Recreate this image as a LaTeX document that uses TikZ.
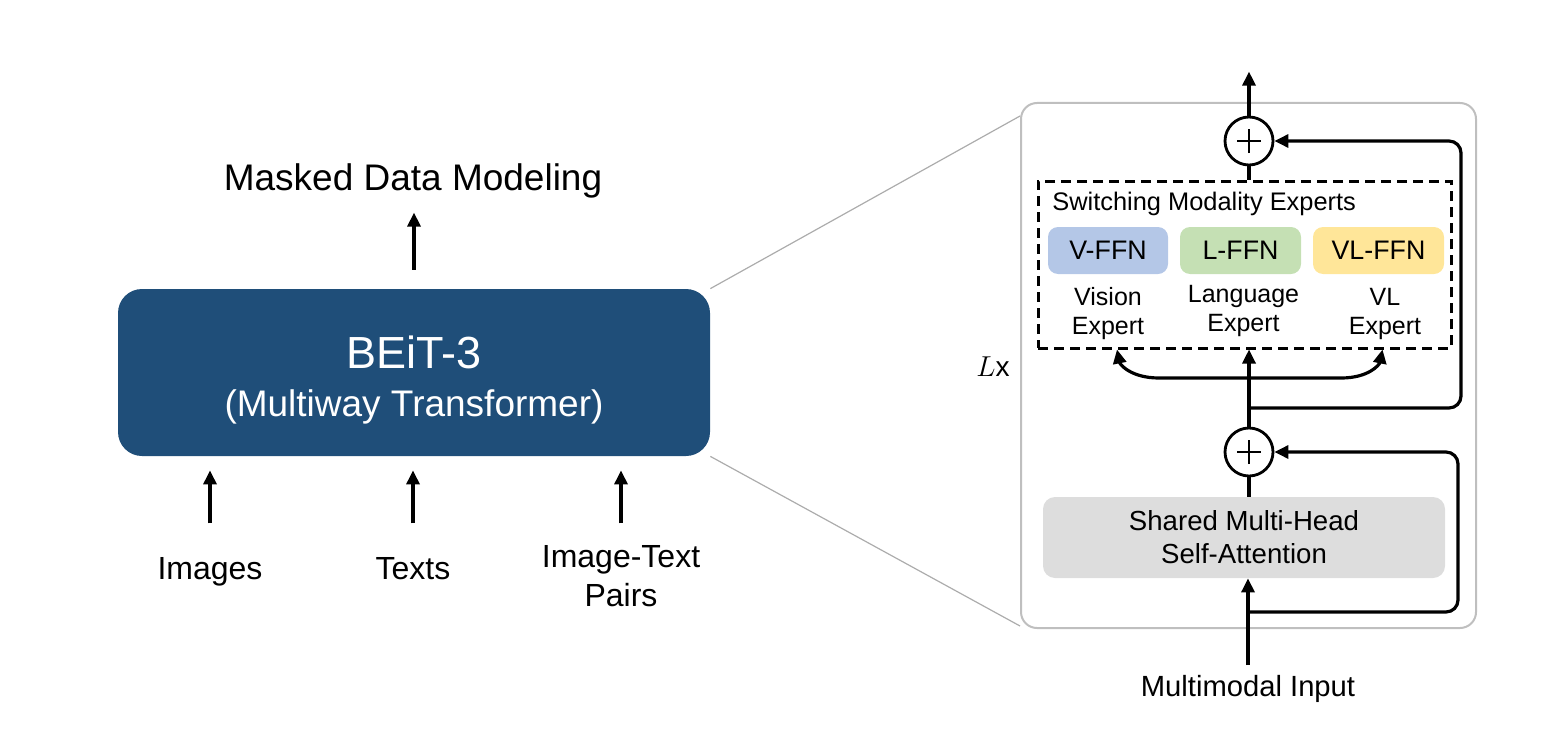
\documentclass[tikz,border=0pt]{standalone}
\usepackage{fontspec}
\setmainfont{Liberation Sans}
\usetikzlibrary{arrows.meta, positioning, backgrounds}
\usepackage{xcolor}
\definecolor{beitblue}{HTML}{1F4E79}
\definecolor{vblue}{HTML}{B4C7E7}
\definecolor{lgreen}{HTML}{C5E0B4}
\definecolor{vlyellow}{HTML}{FFE699}
\definecolor{attgray}{HTML}{DDDDDD}
\definecolor{framegray}{HTML}{BFBFBF}

\begin{document}
\begin{tikzpicture}[
      x=0.5pt, y=-0.5pt,
      big/.style={font=\fontsize{18.5}{22}\selectfont, inner sep=0pt},
      txt/.style={font=\fontsize{16}{19.5}\selectfont, align=center, inner sep=0pt},
      small/.style={font=\fontsize{12.5}{14.5}\selectfont, align=center, inner sep=0pt},
      mainbox/.style={rectangle, rounded corners=12pt, fill=beitblue, text=white, minimum width=296pt, minimum height=83.5pt, align=center, font=\fontsize{22.5}{24}\selectfont},
      ffn/.style={rectangle, rounded corners=5pt, minimum height=23.5pt, inner sep=0pt, font=\fontsize{13.4}{16}\selectfont},
      attbox/.style={rectangle, rounded corners=6pt, fill=attgray, minimum width=201pt, minimum height=40.5pt, align=center, font=\fontsize{13.8}{16.5}\selectfont},
      plus/.style={circle, draw, line width=1.4pt, minimum size=24pt, inner sep=0pt,
        path picture={\draw[line width=1.1pt] ([xshift=-6pt]path picture bounding box.center) -- ([xshift=6pt]path picture bounding box.center)
          ([yshift=-6pt]path picture bounding box.center) -- ([yshift=6pt]path picture bounding box.center);}},
      arrow/.style={line width=1.6pt, -{Triangle[length=7pt, width=6.5pt]}},
      link/.style={line width=1.6pt},
      zoomline/.style={draw=gray!65, line width=0.6pt}
    ]
    \useasboundingbox (0,0) rectangle (1561,733);

    % Bloque principal
    \node[big] (masked) at (413,181) {Masked Data Modeling};
    \node[mainbox] (beit) at (414,372.5) {\rule{0pt}{23.5pt}BEiT-3\\ {\fontsize{18.5}{24}\selectfont (Multiway Transformer)}};

    % Entradas
    \node[txt] (images) at (210,572) {Images};
    \node[txt] (texts) at (413,569) {Texts};
    \node[txt] (pairs) at (621,576) {Image-Text\\Pairs};

    \draw[arrow] ([yshift=9.5pt]beit.north) -- ([yshift=38pt]beit.north);
    \foreach \src in {images, texts, pairs}
      \draw[arrow] ([yshift=-33.5pt]beit.south -| \src) -- ([yshift=-7pt]beit.south -| \src);

    % Capa del transformador
    \node[draw=framegray, line width=1pt, rounded corners=8pt, minimum width=227.5pt, minimum height=262.5pt] (layer) at (1248.5,365.5) {};
    \node[font=\fontsize{14}{16}\selectfont, inner sep=0pt] (repeat) at (993,367) {$L$x};

    \draw[zoomline] (beit.north east) -- ([yshift=-7pt]layer.north west);
    \draw[zoomline] (beit.south east) -- ([yshift=1.5pt]layer.south west);

    \node[plus] (addtop) at (1249,141) {};
    \node[draw, line width=1.5pt, dash pattern=on 5pt off 3pt, minimum width=206.5pt, minimum height=83.5pt] (experts) at (1244.5,264.5) {};
    \node[font=\fontsize{12.7}{15}\selectfont, anchor=west, inner sep=0pt] (switch) at (1052,204) {Switching Modality Experts};

    \node[ffn, fill=vblue, minimum width=60pt] (vffn) at (1108,250.5) {V-FFN};
    \node[ffn, fill=lgreen, minimum width=60.5pt] (lffn) at (1240.5,250.5) {L-FFN};
    \node[ffn, fill=vlyellow, minimum width=65.5pt] (vlffn) at (1378.5,250.5) {VL-FFN};

    \node[small] (vexp) at (1108,314) {Vision\\Expert};
    \node[small] (lexp) at (1243.5,311) {Language\\Expert};
    \node[small] (vlexp) at (1385,314) {VL\\Expert};

    \node[plus] (addbot) at (1249,452) {};
    \node[attbox] (attn) at (1244,537.5) {Shared Multi-Head\\Self-Attention};
    \node[font=\fontsize{14.6}{17}\selectfont, inner sep=0pt] (input) at (1248,689) {Multimodal Input};

    \coordinate (split) at (1249,378);
    \coordinate (tapffn) at (1249,408);
    \coordinate (tapatt) at (1249,612);

    % Conexiones
    \draw[arrow, shorten <=5pt] (input.north) -- (attn.south -| input);
    \draw[link] (attn.north -| addbot) -- (addbot.south);
    \draw[arrow] (addbot.north) -- (addbot.north |- experts.south);
    \draw[link] (experts.north -| addtop) -- (addtop.south);
    \draw[arrow] (addtop.north) -- ([yshift=22pt]addtop.north);

    \draw[arrow] (split) -- ++(-90,0) .. controls +(-28,0) and +(3,15) .. ([xshift=4.5pt]experts.south -| vffn);
    \draw[arrow] (split) -- ++(92,0) .. controls +(28,0) and +(-3,15) .. ([xshift=2pt]experts.south -| vlffn);

    % Conexiones residuales
    \draw[arrow, rounded corners=6pt] (tapffn) -- ++(212,0) |- (addtop.east);
    \draw[arrow, rounded corners=6pt] (tapatt) -- ++(209,0) |- (addbot.east);

  \end{tikzpicture}
\end{document}
